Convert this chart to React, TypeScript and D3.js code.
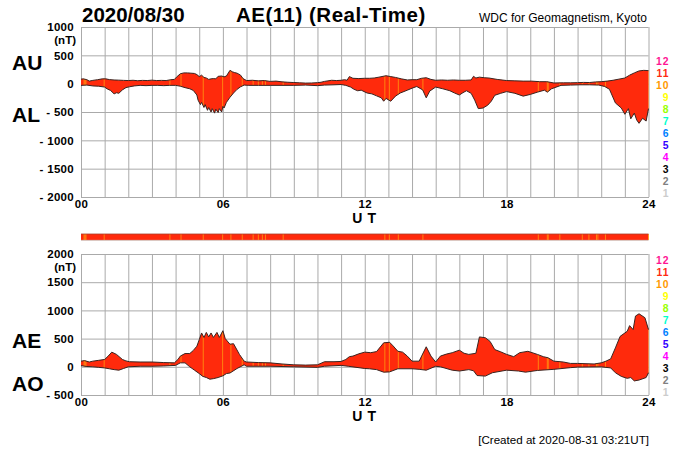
import React, { FC, useEffect, useRef } from "react"
import { area, axisBottom, axisLeft, curveLinear, line, range, scaleLinear, select } from "d3"

const dateLabel = "2020/08/30"
const titleLabel = "AE(11) (Real-Time)"
const sourceLabel = "WDC for Geomagnetism, Kyoto"
const createdLabel = "[Created at 2020-08-31 03:21UT]"

// values, hours and nT
const auHours = [0, 0.1, 0.25, 0.35, 0.5, 0.7, 0.9, 1.05, 1.2, 1.4, 1.6, 1.8, 2, 2.2, 2.4, 2.6, 2.8, 3, 3.2, 3.4, 3.6, 3.8, 3.95, 4.05, 4.2, 4.35, 4.5, 4.65, 4.8, 4.9, 5, 5.1, 5.2, 5.3, 5.4, 5.5, 5.6, 5.7, 5.8, 5.95, 6.05, 6.15, 6.3, 6.4, 6.5, 6.6, 6.75, 6.85, 7, 7.25, 7.5, 7.75, 8, 8.25, 8.5, 8.75, 9, 9.25, 9.5, 9.75, 10, 10.15, 10.3, 10.6, 10.8, 11, 11.15, 11.25, 11.35, 11.5, 11.75, 12, 12.2, 12.4, 12.6, 12.9, 13.1, 13.3, 13.55, 13.8, 14, 14.2, 14.4, 14.6, 14.8, 15, 15.25, 15.5, 15.75, 16, 16.25, 16.5, 16.6, 16.7, 16.85, 17.05, 17.25, 17.6, 18, 18.35, 18.7, 19.05, 19.4, 19.7, 20, 20.4, 20.7, 21, 21.25, 21.5, 21.75, 22, 22.25, 22.5, 22.75, 23, 23.2, 23.4, 23.6, 23.8, 24]
const auValues = [80, 85, 70, 45, 58, 70, 85, 85, 72, 65, 62, 58, 55, 60, 52, 58, 55, 62, 55, 58, 55, 70, 75, 120, 175, 190, 190, 185, 180, 160, 125, 150, 110, 100, 75, 85, 90, 85, 130, 135, 120, 135, 235, 210, 195, 185, 150, 90, 55, 60, 50, 55, 40, 45, 32, 25, 20, 15, 10, 12, 18, 25, 40, 60, 55, 60, 70, 60, 125, 95, 90, 95, 95, 100, 115, 140, 125, 110, 85, 65, 70, 70, 95, 105, 75, 60, 65, 60, 65, 60, 60, 65, 130, 100, 115, 105, 100, 75, 55, 50, 45, 45, 35, 35, 12, 15, 15, 18, 22, 20, 30, 35, 45, 60, 80, 100, 150, 190, 225, 235, 230, 235]

const alHours = [0, 0.25, 0.5, 0.75, 1, 1.1, 1.25, 1.4, 1.5, 1.6, 1.75, 1.9, 2.05, 2.25, 2.5, 2.75, 3, 3.25, 3.5, 3.75, 4, 4.2, 4.4, 4.6, 4.75, 4.9, 4.95, 5.05, 5.1, 5.2, 5.25, 5.35, 5.4, 5.5, 5.55, 5.65, 5.7, 5.8, 5.85, 5.95, 6, 6.05, 6.15, 6.3, 6.45, 6.6, 6.75, 6.9, 7.1, 7.5, 8, 8.5, 9, 9.5, 10, 10.3, 10.7, 11, 11.2, 11.4, 11.55, 11.7, 11.85, 12.1, 12.3, 12.5, 12.7, 12.8, 12.9, 13.1, 13.3, 13.5, 13.8, 14, 14.2, 14.45, 14.6, 14.75, 15, 15.3, 15.6, 15.8, 16, 16.15, 16.3, 16.5, 16.65, 16.8, 17, 17.2, 17.35, 17.5, 17.75, 18, 18.35, 18.7, 19, 19.3, 19.6, 19.72, 19.9, 20.3, 20.7, 21.1, 21.5, 21.9, 22.15, 22.35, 22.6, 22.85, 23, 23.15, 23.25, 23.4, 23.5, 23.6, 23.75, 23.9, 24]
const alValues = [-30, -25, -40, -45, -60, -90, -120, -180, -160, -170, -110, -70, -55, -40, -30, -35, -30, -30, -35, -30, -30, -45, -70, -90, -120, -200, -290, -370, -330, -420, -370, -470, -420, -500, -440, -520, -450, -510, -440, -500, -400, -430, -330, -240, -165, -100, -55, -25, -30, -30, -30, -30, -30, -25, -35, -25, -20, -15, -30, -60, -100, -125, -115, -165, -180, -215, -250, -310, -260, -310, -220, -165, -115, -80, -50, -110, -250, -130, -60, -90, -125, -165, -200, -160, -125, -170, -290, -440, -430, -380, -310, -205, -170, -140, -170, -220, -190, -150, -115, -150, -90, -30, -25, -20, -20, -25, -50, -100, -340, -430, -540, -440, -620, -520, -640, -700, -610, -660, -440]

const aeHours = [0, 0.15, 0.35, 0.5, 0.75, 1, 1.15, 1.3, 1.5, 1.75, 1.9, 2.05, 2.5, 3, 3.5, 3.95, 4.1, 4.2, 4.4, 4.6, 4.75, 4.9, 5, 5.1, 5.2, 5.3, 5.4, 5.5, 5.6, 5.75, 5.85, 6, 6.1, 6.3, 6.45, 6.7, 6.9, 7, 7.5, 8, 8.5, 9, 9.5, 10, 10.3, 10.7, 11, 11.2, 11.35, 11.5, 11.75, 12, 12.25, 12.5, 12.8, 13.05, 13.2, 13.4, 13.6, 13.8, 14, 14.3, 14.6, 14.8, 15, 15.2, 15.45, 15.7, 16, 16.2, 16.4, 16.7, 16.85, 17.1, 17.3, 17.5, 17.75, 18, 18.3, 18.55, 18.9, 19.3, 19.55, 19.75, 20, 20.4, 20.7, 21, 21.7, 22, 22.2, 22.4, 22.6, 22.8, 23.1, 23.2, 23.35, 23.45, 23.6, 23.85, 24]
const aeValues = [100, 110, 85, 100, 115, 130, 190, 260, 220, 130, 105, 90, 85, 85, 75, 70, 130, 190, 235, 235, 290, 365, 480, 600, 520, 610, 530, 600, 520, 610, 520, 640, 500, 400, 410, 220, 100, 85, 75, 70, 50, 35, 30, 35, 90, 90, 95, 130, 180, 190, 230, 260, 250, 270, 425, 435, 370, 275, 260, 190, 100, 100, 355, 190, 85, 190, 225, 250, 295, 240, 220, 240, 530, 515, 450, 305, 265, 220, 180, 250, 275, 220, 180, 160, 100, 85, 60, 60, 50, 70, 100, 140, 335, 540, 630, 730, 660, 900, 940, 870, 660]

const aoHours = [0, 0.25, 0.5, 0.75, 1, 1.2, 1.4, 1.6, 1.8, 2, 2.5, 3, 3.5, 4, 4.2, 4.4, 4.6, 4.8, 5, 5.15, 5.3, 5.45, 5.6, 5.8, 6, 6.15, 6.3, 6.6, 6.9, 7, 8, 9, 10, 10.3, 11, 11.3, 12, 12.2, 12.5, 12.8, 13.05, 13.4, 14, 14.3, 14.6, 15, 15.2, 15.7, 16, 16.4, 16.6, 16.75, 17.1, 17.4, 18, 18.5, 18.8, 19.3, 20, 20.7, 21, 22, 22.4, 22.6, 22.85, 23.1, 23.25, 23.4, 23.6, 23.9, 24]
const aoValues = [20, 5, 0, -10, -20, -35, -50, -60, -30, 0, 10, 10, 15, 25, 70, 70, 0, -60, -120, -170, -190, -220, -210, -190, -160, -120, -110, -30, 35, 10, 10, 0, -10, 10, 25, 10, -30, -35, -50, -95, -90, -35, -35, -45, -60, 10, 0, -60, -75, -50, -70, -155, -165, -105, -60, -75, -95, -65, -45, -15, -5, 0, -20, -105, -170, -205, -190, -250, -235, -190, -105]

// minutes where one station less reported (orange stripes)
const orangeHours = [0.13, 0.17, 0.21, 0.98, 3.76, 4.23, 5.17, 5.99, 6.34, 6.82, 7.28, 7.5, 7.67, 7.8, 8.55, 12.85, 13.04, 13.42, 14.46, 19.34, 19.72, 19.76, 20.25, 21.2, 21.48, 21.8, 21.86, 22.18, 24]

const topTicks = [1000, 500, 0, -500, -1000, -1500, -2000]
const bottomTicks = [2000, 1500, 1000, 500, 0, -500]
const hourTicks = range(0, 25)
const hourLabels = [0, 6, 12, 18, 24]
const stationCounts = [12, 11, 10, 9, 8, 7, 6, 5, 4, 3, 2, 1]
const stationColors = ["#ff1493", "#ff2a10", "#ff9900", "#ffff00", "#99ff00", "#00ffcc", "#0080ff", "#3300ff", "#ff00ff", "#000000", "#808080", "#cccccc"]

const RED = "#ff2a0c"
const ORANGE = "#ff9a10"
const GRID = "#aaaaaa"
const FONT = "'Liberation Sans', Arial, sans-serif"

type Pt = [number, number]
const zip = (xs: number[], ys: number[]): Pt[] => xs.map((x, i) => [x, ys[i]])

// linear read of a series between its knots, so both edges share one x list
const valueAt = (series: Pt[], h: number) => {
  let i = series.findIndex((p) => p[0] >= h)
  if (i <= 0) i = 1
  const [a, b] = [series[i - 1], series[i]]
  return a[1] + ((b[1] - a[1]) * (h - a[0])) / (b[0] - a[0])
}

const App: FC = () => {
  const svgRef = useRef<SVGSVGElement>(null)

  useEffect(() => {
    const svg = select(svgRef.current)
    svg.selectAll("*").remove()

    const xScale = scaleLinear().domain([0, 24]).range([81, 648.5])

    const label = (
      text: string,
      x: number,
      y: number,
      size: number,
      anchor = "start",
      weight = "bold",
      fill = "#000",
    ) =>
      svg
        .append("text")
        .text(text)
        .attr("x", x)
        .attr("y", y)
        .attr("font-size", size)
        .attr("font-family", FONT)
        .attr("font-weight", weight)
        .attr("text-anchor", anchor)
        .attr("fill", fill)

    const drawPanel = (
      id: string,
      ticks: number[],
      yRange: [number, number],
      upper: Pt[],
      lower: Pt[],
    ) => {
      const yScale = scaleLinear()
        .domain([ticks[ticks.length - 1], ticks[0]])
        .range(yRange)

      // grid comes from the axes
      const yAxis = svg
        .append("g")
        .attr("transform", "translate(81,0)")
        .call(
          axisLeft(yScale)
            .tickValues(ticks)
            .tickSizeInner(-(xScale(24) - xScale(0)))
            .tickSizeOuter(0)
            .tickPadding(7)
            .tickFormat((d) => {
              const v = +d
              return v < 0 ? `- ${-v}` : `${v}`
            }),
        )
      const xAxis = svg
        .append("g")
        .attr("transform", `translate(0,${yRange[0]})`)
        .call(
          axisBottom(xScale)
            .tickValues(hourTicks)
            .tickSizeInner(-(yRange[0] - yRange[1]))
            .tickSizeOuter(0)
            .tickPadding(3)
            .tickFormat((d) =>
              hourLabels.includes(+d) ? String(d).padStart(2, "0") : "",
            ),
        )
      for (const axis of [yAxis, xAxis]) {
        axis.select(".domain").attr("stroke", GRID)
        axis.selectAll("line").attr("stroke", GRID)
        axis
          .selectAll("text")
          .attr("font-size", 11.5)
          .attr("letter-spacing", 0.3)
          .attr("font-family", FONT)
          .attr("font-weight", "bold")
          .attr("fill", "#000")
      }
      // unlabelled hours need no empty text nodes
      xAxis
        .selectAll("text")
        .filter((d) => !hourLabels.includes(+(d as number)))
        .remove()

      const merged = Array.from(new Set([...upper, ...lower].map((p) => p[0]))).sort(
        (a, b) => a - b,
      )
      const band = area<number>()
        .x((h) => xScale(h))
        .y0((h) => yScale(valueAt(lower, h)))
        .y1((h) => yScale(valueAt(upper, h)))
        .curve(curveLinear)

      svg
        .append("clipPath")
        .attr("id", `band-${id}`)
        .append("path")
        .attr("d", band(merged))

      svg.append("path").attr("d", band(merged)).attr("fill", RED)

      svg
        .append("g")
        .attr("clip-path", `url(#band-${id})`)
        .selectAll("line")
        .data(orangeHours)
        .join("line")
        .attr("x1", (d) => xScale(d))
        .attr("x2", (d) => xScale(d))
        .attr("y1", yRange[1])
        .attr("y2", yRange[0])
        .attr("stroke", ORANGE)
        .attr("stroke-width", 0.8)

      const edge = line<Pt>()
        .x((d) => xScale(d[0]))
        .y((d) => yScale(d[1]))
      for (const series of [upper, lower]) {
        svg
          .append("path")
          .attr("d", edge(series))
          .attr("fill", "none")
          .attr("stroke", "#3a2420")
          .attr("stroke-width", 1)
      }

      label("(nT)", 76, yRange[1] + 17, 11.5, "end")
      label("U T", 364.5, yRange[0] + 26, 14, "middle").attr("letter-spacing", 0.6)
    }

    drawPanel("top", topTicks, [197, 27], zip(auHours, auValues), zip(alHours, alValues))
    drawPanel("bottom", bottomTicks, [395, 254], zip(aeHours, aeValues), zip(aoHours, aoValues))

    // station count strip between the panels
    svg
      .append("rect")
      .attr("x", xScale(0))
      .attr("y", 234)
      .attr("width", xScale(24) - xScale(0))
      .attr("height", 6)
      .attr("fill", RED)
    svg
      .append("g")
      .selectAll("line")
      .data(orangeHours)
      .join("line")
      .attr("x1", (d) => xScale(d))
      .attr("x2", (d) => xScale(d))
      .attr("y1", 234)
      .attr("y2", 240)
      .attr("stroke", ORANGE)
      .attr("stroke-width", 0.8)
    svg
      .append("line")
      .attr("x1", xScale(0))
      .attr("x2", xScale(24))
      .attr("y1", 234)
      .attr("y2", 234)
      .attr("stroke", "#a8402c")
      .attr("stroke-width", 0.8)
    svg
      .append("line")
      .attr("x1", xScale(0))
      .attr("x2", xScale(24))
      .attr("y1", 240.3)
      .attr("y2", 240.3)
      .attr("stroke", "#c8a8a0")
      .attr("stroke-width", 0.8)

    // legends
    const legendY = (start: number) =>
      scaleLinear().domain([0, 11]).range([start, start + 132])
    for (const start of [61, 259.5]) {
      const y = legendY(start)
      svg
        .append("g")
        .selectAll("text")
        .data(stationCounts)
        .join("text")
        .text((d) => d)
        .attr("x", 669.5)
        .attr("y", (_, i) => y(i) + 4)
        .attr("text-anchor", "end")
        .attr("font-size", 10.4)
        .attr("letter-spacing", 1)
        .attr("font-family", FONT)
        .attr("font-weight", "bold")
        .attr("fill", (_, i) => stationColors[i])
    }

    label(dateLabel, 82, 22, 20.5)
    label(titleLabel, 236, 22, 20.5).attr("letter-spacing", 0.5)
    label(sourceLabel, 647, 22, 12, "end", "normal")
    label(createdLabel, 649, 444, 11.6, "end", "normal")
    label("AU", 12, 70, 21)
    label("AL", 12, 122, 21)
    label("AE", 12, 348, 21)
    label("AO", 12, 391, 21)
  }, [])

  return (
    <svg
      ref={svgRef}
      width={700}
      height={450}
      style={{ position: "absolute", left: 0, top: 0, background: "#fff" }}
    />
  )
}

export default App
